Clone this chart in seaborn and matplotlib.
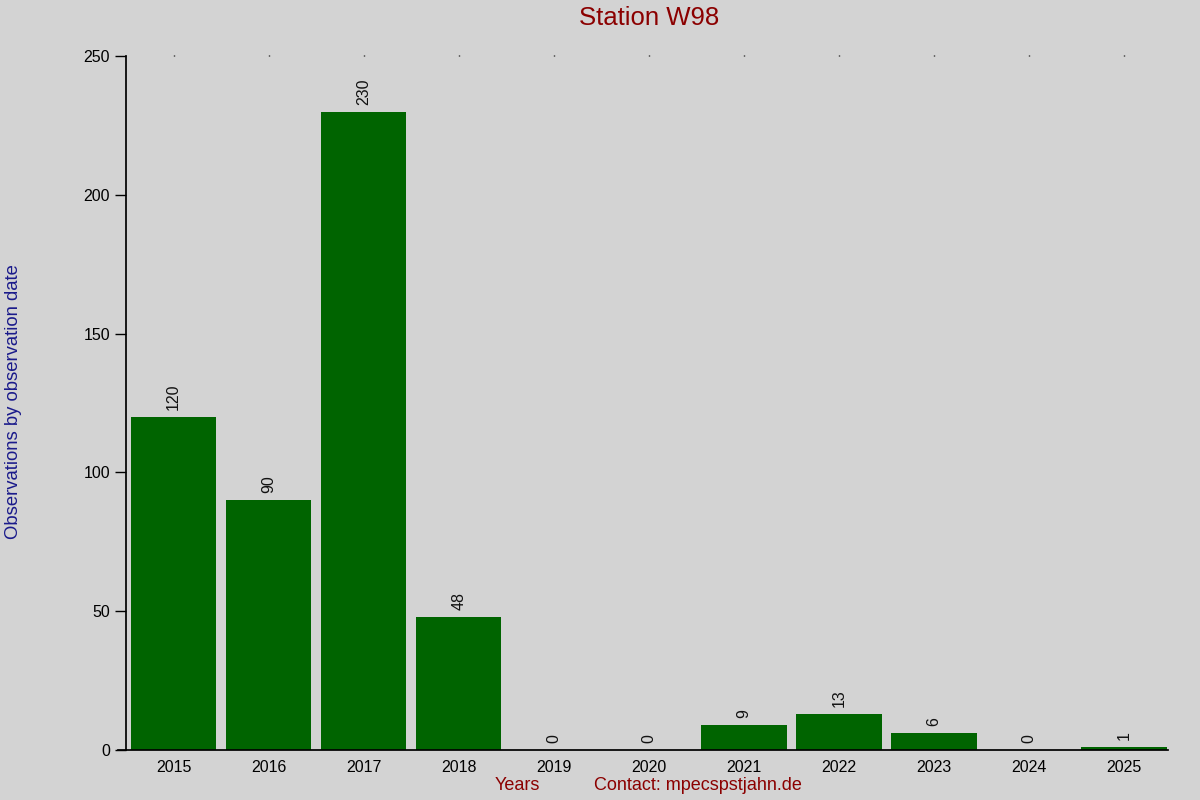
import pandas as pd
import seaborn as sns
import matplotlib.pyplot as plt

# observations per year for station W98
years = ['2015', '2016', '2017', '2018', '2019', '2020', '2021', '2022', '2023', '2024', '2025']
counts = [120, 90, 230, 48, 0, 0, 9, 13, 6, 0, 1]
y_ticks = [0, 50, 100, 150, 200, 250]

bg = '#d3d3d3'
sns.set_theme(style='ticks', rc={'axes.facecolor': bg, 'figure.facecolor': bg})
plt.rcParams['font.family'] = ['Liberation Sans', 'DejaVu Sans']

df = pd.DataFrame({'year': years, 'obs': counts})

fig = plt.figure(figsize=(12, 8), dpi=100)
ax = fig.add_axes([0.105, 0.0625, 0.868, 0.8675])

sns.barplot(data=df, x='year', y='obs', color='#006400', saturation=1, width=0.9,
            linewidth=0, edgecolor='none', ax=ax)

# value labels on top of bars
for i, v in enumerate(counts):
    ax.annotate(str(v), (i, v), xytext=(0, 5), textcoords='offset points',
                rotation=90, ha='center', va='bottom', fontsize=11.5, color='#111111')

ax.set_xlim(-0.5, 10.46)
ax.set_ylim(0, 250)
ax.set_yticks(y_ticks)
ax.tick_params(axis='y', length=8, width=1, labelsize=11.5, colors='black')
ax.tick_params(axis='x', bottom=False, top=True, length=1, width=1, labelsize=11.5, pad=6,
               labelbottom=True, labeltop=False, colors='black')
ax.set_xlabel('')
ax.set_ylabel('')
ax.spines['right'].set_visible(False)
ax.spines['top'].set_visible(False)
ax.spines['bottom'].set_bounds(-0.58, 10.46)
ax.spines['left'].set_color('black')
ax.spines['bottom'].set_color('black')

fig.text(0.541, 0.977, 'Station W98', ha='center', va='center', fontsize=18.5, color='#8b0000')
fig.text(0.011, 0.4975, 'Observations by observation date', rotation=90, ha='center', va='center',
         fontsize=13.3, color='#1a1a8b')
fig.text(0.431, 0.0175, 'Years', ha='center', va='center', fontsize=13, color='#8b0000')
fig.text(0.582, 0.0175, 'Contact: mpecspstjahn.de', ha='center', va='center', fontsize=13, color='#8b0000')

fig.savefig('out.png', dpi=100, facecolor=bg)
